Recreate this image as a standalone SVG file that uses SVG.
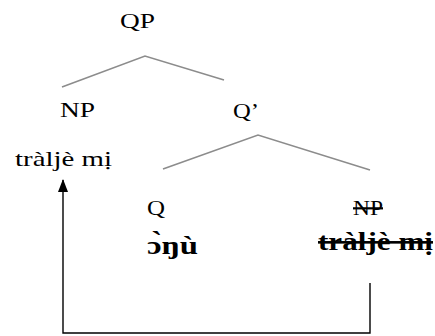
<svg xmlns="http://www.w3.org/2000/svg" width="435" height="336" viewBox="0 0 435 336">
<style>
.t{font-family:"Liberation Serif","Times New Roman",serif;font-size:22px;fill:#000}
.b{font-weight:bold;font-size:26px}
.s{text-decoration:line-through}
.br{fill:none;stroke:#8c8c8c;stroke-width:1.6}
.mv{fill:none;stroke:#000;stroke-width:1.4}
</style>
<defs>
<marker id="ah" markerWidth="13" markerHeight="10" refX="12" refY="5" orient="auto" markerUnits="userSpaceOnUse">
<path d="M0,0 L13,5 L0,10 Z" fill="#000"/>
</marker>
</defs>
<rect width="435" height="336" fill="#fff"/>
<g id="connectors">
<polyline class="br" points="62,87 145,56 224,80"/>
<polyline class="br" points="163,169 258,135 370,170"/>
<polyline class="mv" points="370,283 370,333 63,333 63,180" marker-end="url(#ah)"/>
</g>
<g id="QP"><text class="t" x="120" y="28" textLength="35" lengthAdjust="spacingAndGlyphs">QP</text></g>
<g id="NP1">
<text class="t" x="60" y="117" textLength="35" lengthAdjust="spacingAndGlyphs">NP</text>
<text class="t" x="15" y="166" textLength="97" lengthAdjust="spacingAndGlyphs">tràljè mị</text>
</g>
<g id="Qbar"><text class="t" x="233" y="118" textLength="26" lengthAdjust="spacingAndGlyphs">Q’</text></g>
<g id="Q">
<text class="t" x="147" y="215" textLength="18" lengthAdjust="spacingAndGlyphs">Q</text>
<text class="t b" x="147" y="254" textLength="51" lengthAdjust="spacingAndGlyphs">ɔ̀ŋù</text>
</g>
<g id="NP2">
<text class="t s" x="353" y="215" textLength="30" lengthAdjust="spacingAndGlyphs">NP</text>
<text class="t b s" x="318" y="250" textLength="115" lengthAdjust="spacingAndGlyphs">tràljè mị</text>
</g>
</svg>
